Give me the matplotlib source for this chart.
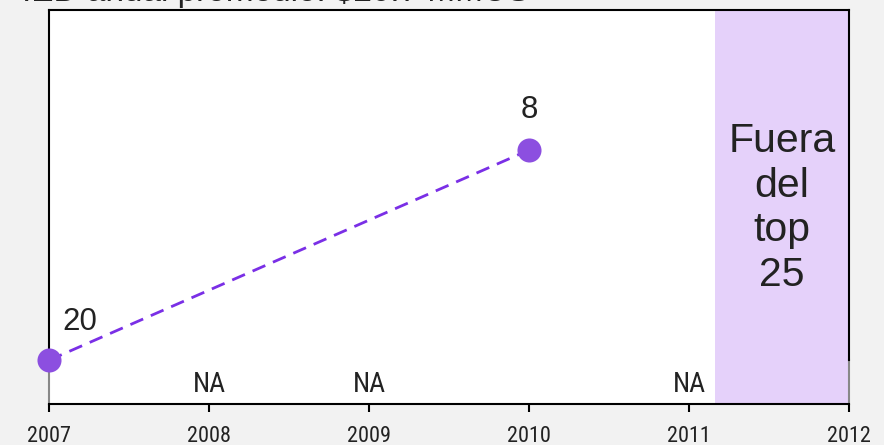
import matplotlib
matplotlib.use("Agg")
import matplotlib.pyplot as plt
from matplotlib import font_manager
import numpy as np

years = [2007, 2008, 2009, 2010, 2011, 2012]
rank_years = [2007, 2010]
ranks = [20, 8]
na_years = [2008, 2009, 2011]
title = "IED anual promedio: $20.7 MMUS"
shade_label = "Fuera\ndel\ntop\n25"

# pick a narrow font if one is installed
names = {f.name for f in font_manager.fontManager.ttflist}
nfont = None
for cand in ["Liberation Sans Narrow", "Arial Narrow", "Roboto Condensed", "Open Sans Condensed"]:
    if cand in names:
        nfont = dict(family=cand)
        na_size, tk_size = 20, 16
        break
if nfont is None:
    has_dv_cond = any(f.name == "DejaVu Sans" and "Condensed" in f.fname
                      for f in font_manager.fontManager.ttflist)
    if has_dv_cond:
        nfont = dict(family="DejaVu Sans", fontstretch="condensed")
        na_size, tk_size = 17, 14
    else:
        nfont = dict(family="Liberation Sans")
        na_size, tk_size = 16, 14

fig = plt.figure(figsize=(8.84, 4.45), dpi=100, facecolor="#f2f2f2")
ax = fig.add_axes([49/884, 1-404/445, 800/884, 394/445])
ax.set_facecolor("white")
ax.set_xlim(2007, 2012)
ax.set_ylim(22.5, 0)

ax.axvspan(2011.16, 2012, color="#e5d1fa", zorder=0, lw=0)
ax.plot(rank_years, ranks, color="#7a2fe6", lw=2, ls=(0, (5, 3)), zorder=2)
ax.scatter(rank_years, ranks, s=300, color="#8c4fe0", zorder=3, clip_on=False, lw=0)

ax.text(rank_years[0] + 0.19, ranks[0] - 2.2, str(ranks[0]), ha="center", va="center",
        fontsize=22.5, color="#222222", family="Liberation Sans")
ax.text(rank_years[1], ranks[1] - 2.3, str(ranks[1]), ha="center", va="center",
        fontsize=22.5, color="#222222", family="Liberation Sans")

for y in na_years:
    ax.text(y, 21.4, "NA", ha="center", va="center", fontsize=na_size, color="#222222", **nfont)
ax.text(2011.58, 11.3, shade_label, ha="center", va="center", fontsize=29.5,
        color="#222222", family="Liberation Sans", linespacing=1.22)

for s in ["left", "right", "top", "bottom"]:
    ax.spines[s].set_color("black")
    ax.spines[s].set_linewidth(1.5)
ax.spines["left"].set_bounds(0, 20)
ax.spines["right"].set_bounds(0, 20)
ax.plot([2007, 2007], [20, 22.5], color="#888888", lw=1.5, clip_on=False, zorder=1)
ax.plot([2012, 2012], [20, 22.5], color="#888888", lw=1.5, clip_on=False, zorder=1)

ax.set_yticks([])
ax.set_xticks(years)
ax.set_xticklabels([str(y) for y in years], fontsize=tk_size, color="#222222", **nfont)
ax.tick_params(axis="x", length=6, width=1.5, color="black", pad=10)

fig.text(22/884, 1-1/445, title, ha="left", va="baseline", fontsize=24,
         color="#222222", family="Liberation Sans")

fig.savefig("out.png", dpi=100, facecolor=fig.get_facecolor())
